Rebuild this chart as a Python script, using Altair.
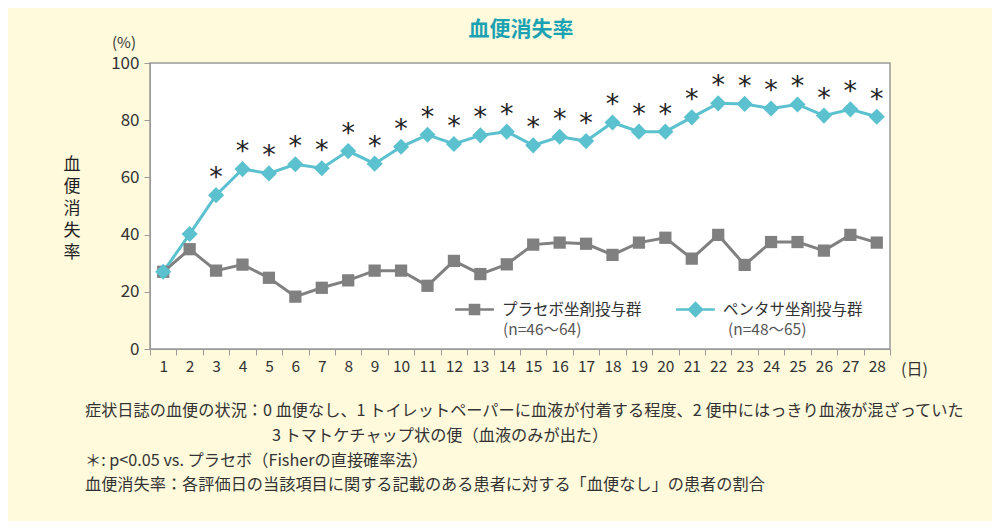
import altair as alt
import pandas as pd

days = list(range(1, 29))
placebo = [27.0, 34.9, 27.4, 29.5, 24.9, 18.3, 21.4, 24.0, 27.4, 27.4, 22.1, 30.8, 26.2, 29.6,
           36.5, 37.2, 36.8, 32.9, 37.2, 38.9, 31.6, 39.9, 29.4, 37.4, 37.4, 34.4, 39.9, 37.2]
pentasa = [27.0, 40.2, 53.8, 62.9, 61.4, 64.6, 63.2, 69.2, 64.8, 70.7, 74.9, 71.7, 74.7, 76.0,
           71.2, 74.2, 72.7, 79.2, 76.0, 76.0, 81.0, 85.9, 85.7, 84.1, 85.5, 81.6, 83.8, 81.2]
significant = [False, False] + [True] * 26
groups = ["プラセボ坐剤投与群", "ペンタサ坐剤投与群"]
group_n = ["(n=46〜64)", "(n=48〜65)"]
colors = ["#808080", "#5bc1cf"]
ytitle_chars = ["血", "便", "消", "失", "率"]
notes = [
    "症状日誌の血便の状況：0 血便なし、1 トイレットペーパーに血液が付着する程度、2 便中にはっきり血液が混ざっていた",
    "3 トマトケチャップ状の便（血液のみが出た）",
    "＊: p<0.05 vs. プラセボ（Fisherの直接確率法）",
    "血便消失率：各評価日の当該項目に関する記載のある患者に対する「血便なし」の患者の割合",
]

FONT = "Noto Sans CJK JP"
W, H = 740, 286

df = pd.DataFrame({
    "day": days * 2,
    "rate": placebo + pentasa,
    "group": [groups[0]] * 28 + [groups[1]] * 28,
})
df_p = df[df.group == groups[0]]
df_t = df[df.group == groups[1]]
df_sig = pd.DataFrame({"day": days, "rate": pentasa, "sig": significant})
df_sig = df_sig[df_sig.sig]
one = pd.DataFrame({"k": [0]})

xenc = alt.X("day:O", title=None,
             scale=alt.Scale(type="band", paddingInner=0, paddingOuter=0),
             axis=alt.Axis(labelAngle=0, tickBand="extent", domainColor="#999999",
                           tickColor="#999999", tickSize=6, labelFontSize=15.5,
                           labelColor="#333333", labelPadding=4, labelFont=FONT))
yenc = alt.Y("rate:Q", title=None,
             scale=alt.Scale(domain=[0, 100]),
             axis=alt.Axis(values=[0, 20, 40, 60, 80, 100], domainColor="#999999",
                           tickColor="#999999", tickSize=6, labelFontSize=17,
                           labelColor="#333333", labelPadding=5, labelFont=FONT,
                           grid=False))

color_scale = alt.Scale(domain=groups, range=colors)

line_p = alt.Chart(df_p).mark_line(strokeWidth=3, color=colors[0]).encode(x=xenc, y=yenc)
line_t = alt.Chart(df_t).mark_line(strokeWidth=3, color=colors[1]).encode(x="day:O", y="rate:Q")
pts_p = alt.Chart(df_p).mark_point(shape="square", filled=True, size=150, opacity=1,
                                   color=colors[0]).encode(x="day:O", y="rate:Q")
pts_t = alt.Chart(df_t).mark_point(shape="diamond", filled=True, size=260, opacity=1,
                                   color=colors[1]).encode(x="day:O", y="rate:Q")

stars = alt.Chart(df_sig).mark_text(text="*", fontSize=27, font="DejaVu Sans",
                                    color="#222222", baseline="middle", dy=-17).encode(
    x="day:O", y="rate:Q")

legend_paths = [
    "M-1,-0.06H1V0.06H-1Z M-0.3,-0.3H0.3V0.3H-0.3Z",
    "M-1,-0.06H1V0.06H-1Z M0,-0.42L0.42,0L0,0.42L-0.42,0Z",
]
legend_layer = alt.Chart(df).transform_filter("false").mark_point(
    filled=True, strokeWidth=0, opacity=1).encode(
    x="day:O", y="rate:Q",
    color=alt.Color("group:N", scale=color_scale, legend=alt.Legend(
        title=None, orient="none", legendX=305, legendY=227, direction="horizontal",
        symbolSize=1500, symbolStrokeWidth=0, symbolOpacity=1,
        labelFont=FONT, labelFontSize=15.5, labelColor="#333333",
        columnPadding=34, labelLimit=300, labelOffset=8)),
    shape=alt.Shape("group:N", scale=alt.Scale(domain=groups, range=legend_paths), legend=None),
)
sub_labels = [
    alt.Chart(one).mark_text(text=t, font=FONT, fontSize=15.5, color="#555555",
                             align="left", baseline="middle").encode(
        x=alt.value(px), y=alt.value(267))
    for t, px in zip(group_n, [353, 578])
]

title = alt.Chart(one).mark_text(text="血便消失率", font=FONT, fontSize=21, fontWeight="bold",
                                 color="#1aa2b3", align="center", baseline="middle").encode(
    x=alt.value(371), y=alt.value(-33))
pct = alt.Chart(one).mark_text(text="(%)", font=FONT, fontSize=15, color="#333333",
                               align="center", baseline="middle").encode(
    x=alt.value(-26), y=alt.value(-20))
day_unit = alt.Chart(one).mark_text(text="(日)", font=FONT, fontSize=16, color="#333333",
                                    align="left", baseline="middle").encode(
    x=alt.value(751), y=alt.value(H + 21))
ytitle = [
    alt.Chart(one).mark_text(text=c, font=FONT, fontSize=17, color="#222222",
                             align="center", baseline="middle").encode(
        x=alt.value(-78), y=alt.value(102 + 22 * i))
    for i, c in enumerate(ytitle_chars)
]

note_pos = [(-65, 62), (122, 87), (-65, 112), (-65, 136)]
note_layers = [
    alt.Chart(one).mark_text(text=t, font=FONT, fontSize=16.2, color="#333333",
                             align="left", baseline="middle").encode(
        x=alt.value(px), y=alt.value(H + py))
    for t, (px, py) in zip(notes, note_pos)
]

chart = alt.layer(line_p, line_t, pts_p, pts_t, stars, legend_layer, *sub_labels, title, pct,
                  day_unit, *ytitle, *note_layers).properties(
    width=W, height=H,
    background="#fffadc",
    padding={"left": 142, "top": 55, "right": 102, "bottom": 172},
    autosize=alt.AutoSizeParams(type="none"),
).configure_view(fill="white", stroke="#999999", strokeWidth=1.5)

chart.save("out.html", embed_options={"renderer": "svg", "actions": False})
